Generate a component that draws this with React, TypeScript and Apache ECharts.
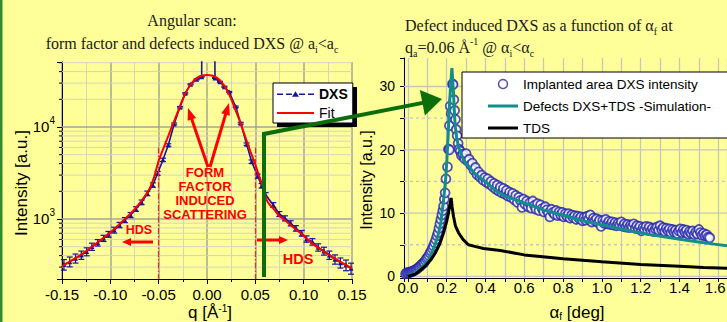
import React, { useEffect, useRef } from 'react';
import * as echarts from 'echarts';

// ---------- Left panel: angular scan ----------
const Q_DXS = [-0.148, -0.142, -0.136, -0.130, -0.1245, -0.119, -0.113, -0.107, -0.102, -0.096, -0.0905, -0.085, -0.079, -0.0735, -0.0676, -0.0617, -0.056, -0.051, -0.0455, -0.040, -0.034, -0.028, -0.0225, -0.017, -0.0107, -0.0055, -0.0049, 0.0058, 0.0083, 0.0134, 0.018, 0.023, 0.0297, 0.0349, 0.041, 0.0462, 0.0524, 0.0565, 0.0607, 0.0686, 0.0748, 0.0807, 0.0866, 0.092, 0.098, 0.103, 0.109, 0.115, 0.121, 0.1266, 0.1324, 0.138, 0.1438, 0.149];
const DXS = [320, 344, 374, 406, 442, 501, 553, 617, 682, 758, 861, 975, 1105, 1284, 1518, 1900, 2340, 3140, 4400, 6370, 10800, 16400, 23200, 29100, 33000, 35200, 1e8, 1e8, 34000, 31000, 27400, 24000, 16600, 11000, 6500, 4200, 2930, 2300, 1823, 1420, 1133, 1017, 898, 792, 700, 607, 566, 492, 449, 406, 365, 335, 316, 291];
const DXS_ERR = [42, 42, 42, 42, 44, 45, 45, 48, 50, 55, 58, 62, 70, 75, 90, 110, 130, 150, 180, 200, 250, 300, 350, 400, 400, 400, 0, 0, 400, 400, 400, 350, 300, 250, 200, 180, 150, 130, 110, 85, 70, 65, 58, 55, 50, 48, 46, 45, 44, 42, 42, 42, 42, 40];
const Q_FIT = [-0.150, -0.140, -0.130, -0.120, -0.110, -0.100, -0.090, -0.080, -0.070, -0.060, -0.055, -0.050, -0.045, -0.040, -0.035, -0.030, -0.025, -0.020, -0.015, -0.010, -0.005, 0, 0.005, 0.010, 0.015, 0.020, 0.025, 0.030, 0.035, 0.040, 0.045, 0.050, 0.053, 0.056, 0.059, 0.0617, 0.065, 0.0686, 0.0738, 0.080, 0.090, 0.100, 0.110, 0.120, 0.130, 0.140, 0.150];
const FIT = [305, 355, 412, 490, 590, 712, 890, 1120, 1470, 2080, 2800, 4300, 5900, 8000, 10900, 14800, 20200, 25800, 30800, 34400, 36300, 36800, 36300, 34400, 30800, 25800, 20200, 14800, 10800, 7600, 5400, 3900, 3140, 2550, 2066, 1610, 1420, 1306, 1105, 980, 800, 660, 530, 450, 385, 333, 290];
const HDS_BOUNDS = [-0.05, 0.05];
const HDS_TOP = 6000;
const LOG_MAJOR = [1000, 10000];
const LOG_MINOR = [300, 400, 500, 600, 700, 800, 900, 2000, 3000, 4000, 5000, 6000, 7000, 8000, 9000, 20000, 30000, 40000, 50000];

// ---------- Right panel: alpha_f scan ----------
const OBSERVED = [
  [-0.012, 0.4], [-0.006, 0.6], [0.000, 0.5], [0.006, 0.6], [0.012, 0.7], [0.018, 0.7], [0.024, 0.8], [0.030, 0.9], [0.036, 1.0], [0.042, 1.1],
  [0.048, 1.2], [0.054, 1.4], [0.060, 1.5], [0.066, 1.7], [0.072, 1.9], [0.078, 2.1], [0.084, 2.2], [0.090, 2.5], [0.096, 2.8], [0.102, 3.0],
  [0.108, 3.3], [0.114, 3.7], [0.120, 4.0], [0.126, 4.4], [0.132, 4.8], [0.138, 5.3], [0.144, 5.8], [0.150, 6.4], [0.155, 6.9], [0.160, 7.6],
  [0.165, 8.3], [0.170, 9.0], [0.175, 9.7], [0.180, 10.4], [0.184, 11.1], [0.188, 12.2], [0.192, 13.2], [0.196, 15.4], [0.204, 17.3], [0.209, 20.1],
  [0.214, 23.8], [0.214, 20.0], [0.218, 26.9], [0.223, 25.7], [0.230, 30.4], [0.233, 30.3], [0.237, 27.9], [0.241, 26.2], [0.245, 24.8], [0.249, 23.2],
  [0.254, 22.2], [0.259, 21.0], [0.264, 20.1], [0.270, 19.8], [0.276, 19.1],
  [0.284, 19.3], [0.292, 18.6], [0.300, 19.4], [0.308, 18.2], [0.316, 18.5], [0.324, 17.6], [0.332, 17.9], [0.340, 16.8], [0.348, 17.2], [0.356, 16.1],
  [0.364, 16.5], [0.372, 15.7], [0.380, 16.0], [0.388, 15.2], [0.396, 15.6], [0.404, 14.9], [0.412, 15.4], [0.420, 14.6], [0.428, 15.0], [0.436, 14.2],
  [0.444, 14.7], [0.452, 13.8], [0.460, 14.4], [0.468, 13.5], [0.476, 14.1], [0.484, 13.2], [0.492, 13.9], [0.500, 13.0], [0.508, 13.6], [0.516, 12.7],
  [0.524, 13.3], [0.532, 12.5], [0.540, 13.1], [0.548, 12.1], [0.556, 12.8], [0.564, 11.7], [0.572, 12.5], [0.580, 12.0], [0.588, 10.9], [0.596, 12.2],
  [0.604, 11.4], [0.612, 11.9], [0.620, 11.0], [0.628, 11.6], [0.636, 10.8], [0.644, 11.9], [0.652, 11.2], [0.660, 10.6], [0.668, 11.5], [0.676, 10.4],
  [0.684, 11.3], [0.692, 10.7], [0.700, 10.2], [0.708, 11.0], [0.716, 10.5], [0.724, 10.0], [0.732, 9.4], [0.740, 10.6], [0.748, 10.1], [0.756, 9.8],
  [0.764, 10.4], [0.772, 9.6], [0.780, 10.2], [0.788, 9.7], [0.796, 10.1], [0.804, 9.4], [0.812, 9.9], [0.820, 9.5], [0.828, 9.9], [0.836, 9.2],
  [0.844, 9.7], [0.852, 9.3], [0.860, 9.6], [0.868, 9.0], [0.876, 9.5], [0.884, 9.1], [0.892, 9.4], [0.900, 8.8], [0.908, 9.3], [0.916, 8.9],
  [0.924, 9.5], [0.932, 9.0], [0.940, 9.7], [0.948, 8.6], [0.956, 9.2], [0.964, 8.8], [0.972, 9.1], [0.980, 8.5], [0.988, 8.9], [0.996, 7.9],
  [1.004, 8.8], [1.012, 8.4], [1.020, 9.0], [1.028, 8.3], [1.036, 8.7], [1.044, 8.2], [1.052, 8.6], [1.060, 8.1], [1.068, 8.5], [1.076, 8.0],
  [1.084, 8.4], [1.092, 8.1], [1.100, 8.6], [1.108, 7.9], [1.116, 8.3], [1.124, 7.8], [1.132, 8.2], [1.140, 7.7], [1.148, 8.1], [1.156, 7.8],
  [1.164, 8.3], [1.172, 7.6], [1.180, 8.0], [1.188, 7.5], [1.196, 7.9], [1.204, 7.2], [1.212, 7.7], [1.220, 7.4], [1.228, 7.9], [1.236, 7.3],
  [1.244, 7.8], [1.252, 7.2], [1.260, 7.6], [1.268, 7.1], [1.276, 7.5], [1.284, 7.8], [1.292, 7.3], [1.300, 8.0], [1.308, 7.4], [1.316, 7.7],
  [1.324, 7.1], [1.332, 7.6], [1.340, 7.2], [1.348, 7.5], [1.356, 6.9], [1.364, 7.4], [1.372, 7.0], [1.380, 7.3], [1.388, 6.8], [1.396, 7.2],
  [1.404, 7.5], [1.412, 6.9], [1.420, 7.4], [1.428, 7.0], [1.436, 7.3], [1.444, 6.7], [1.452, 7.1], [1.460, 6.8], [1.468, 7.2], [1.476, 6.6],
  [1.484, 7.0], [1.492, 6.7], [1.500, 7.4], [1.508, 6.9], [1.516, 6.5], [1.524, 6.8], [1.532, 6.4], [1.540, 6.6], [1.548, 6.2], [1.556, 6.1],
];
const A_SIM = [0, 0.03, 0.06, 0.09, 0.106, 0.12, 0.14, 0.158, 0.17, 0.184, 0.195, 0.201, 0.207, 0.213, 0.220, 0.227, 0.231, 0.235, 0.240, 0.244, 0.252, 0.261, 0.278, 0.295, 0.312, 0.340, 0.364, 0.40, 0.45, 0.50, 0.60, 0.647, 0.70, 0.82, 0.90, 0.991, 1.08, 1.163, 1.25, 1.335, 1.42, 1.507, 1.58, 1.645];
const SIM = [0.1, 0.5, 1.1, 2.0, 2.6, 3.6, 5.0, 6.8, 8.6, 12.1, 15.5, 18.4, 22.0, 26.3, 30.0, 32.9, 31.0, 29.0, 25.8, 23.7, 21.8, 20.5, 19.0, 18.0, 17.4, 16.4, 15.8, 15.0, 13.6, 12.7, 11.6, 11.1, 10.5, 9.5, 8.8, 8.2, 7.6, 7.1, 6.6, 6.2, 5.8, 5.4, 5.1, 4.85];
const A_TDS = [0, 0.04, 0.089, 0.12, 0.141, 0.165, 0.184, 0.200, 0.209, 0.218, 0.223, 0.228, 0.235, 0.245, 0.261, 0.285, 0.312, 0.35, 0.39, 0.476, 0.6, 0.8, 1.0, 1.2, 1.4, 1.524, 1.645];
const TDS = [0, 0.4, 1.6, 2.7, 3.7, 5.2, 6.9, 8.7, 10.0, 11.6, 12.4, 11.0, 9.5, 8.0, 6.9, 5.8, 5.0, 4.7, 4.4, 4.1, 3.4, 2.8, 2.3, 1.9, 1.6, 1.4, 1.3];
const Y_GRID_MAJOR = [0, 10, 20, 30];
const Y_GRID_MINOR = [5, 15, 25];

// ---------- axis extents ----------
const Q_MIN = -0.15, Q_MAX = 0.15;
const I_MIN = 222.7, I_MAX = 50870;
const A_MIN = -0.02, A_MAX = 1.645;
const V_MIN = -0.25, V_MAX = 34.5;

const SANS = '"Liberation Sans", Arial, sans-serif';
const SERIF = '"Liberation Serif", "Times New Roman", serif';
const BG = '#ffff99';
const BLUE = '#1414a0';
const RED = '#ff0000';
const TEAL = '#138c8c';
const OBS_BLUE = '#2222aa';
const GREEN = '#0b6e0b';
const MAJOR_GRID = '#a4a49a';
const MINOR_GRID = '#d4d4c0';
const RGRID = '#c6c6c0';

// legend icon shapes (drawn in the legend item box)
const ICON_DXS = 'path://M0,6.3H6V7.7H0Z M9,6.3H15V7.7H9Z M18.5,4L22,9.5H15Z M22,6.3H28V7.7H22Z M31,6.3H37V7.7H31Z';
const ICON_LINE2 = 'path://M0,0H37V2H0Z';
const ICON_LINE3 = 'path://M0,0H30V3H0Z';

function arrow(x1: number, y1: number, x2: number, y2: number, color: string, lw: number, hl: number, hw: number, z: number) {
  const dx = x2 - x1, dy = y2 - y1;
  const L = Math.hypot(dx, dy);
  const ux = dx / L, uy = dy / L;
  const bx = x2 - ux * hl, by = y2 - uy * hl;
  const px = -uy, py = ux;
  return [
    { type: 'line', z, shape: { x1, y1, x2: bx + ux, y2: by + uy }, style: { stroke: color, lineWidth: lw } },
    { type: 'polygon', z, shape: { points: [[x2, y2], [bx + px * hw / 2, by + py * hw / 2], [bx - px * hw / 2, by - py * hw / 2]] }, style: { fill: color } },
  ];
}

const titleStyle = (size: number, family: string, lh: number, color: string) => ({
  fontFamily: family, fontSize: size, fontWeight: 'normal', color, lineHeight: lh,
  rich: {
    s: { fontFamily: family, fontSize: 10, lineHeight: 12, verticalAlign: 'bottom', color },
    p: { fontFamily: family, fontSize: 10, lineHeight: 10, verticalAlign: 'top', color },
  },
});

function buildOption(): any {
  const dxsData = Q_DXS.map((q, i) => [q, DXS[i]]);
  const errData = Q_DXS.map((q, i) => [q, DXS[i] - DXS_ERR[i], DXS[i] + DXS_ERR[i]]).filter((_, i) => DXS_ERR[i] > 0);
  const fitData = Q_FIT.map((q, i) => [q, FIT[i]]);
  const logGrid = [...LOG_MAJOR.map(v => [Q_MIN, v, 1]), ...LOG_MINOR.map(v => [Q_MIN, v, 0])];
  const linGrid = [...Y_GRID_MAJOR.map(v => [A_MIN, v, 1]), ...Y_GRID_MINOR.map(v => [A_MIN, v, 0])];
  const simData = A_SIM.map((a, i) => [a, SIM[i]]);
  const tdsData = A_TDS.map((a, i) => [a, TDS[i]]);

  const axisBase = {
    axisLine: { show: true, onZero: false, lineStyle: { color: '#000', width: 1 } },
    axisTick: { show: true, lineStyle: { color: '#000', width: 1 } },
  };

  return {
    animation: false,
    backgroundColor: BG,
    title: [
      { text: 'Angular scan:', left: 192, top: 9, textAlign: 'center', padding: 0, textStyle: titleStyle(16, SERIF, 22, '#1a1a1a') },
      { text: 'form factor and defects induced DXS @ a{s|i}<a{s|c}', left: 192, top: 32, textAlign: 'center', padding: 0, textStyle: titleStyle(16, SERIF, 22, '#1a1a1a') },
      { text: 'Defect induced DXS as a function of α{s|f} at', left: 405, top: 14, textAlign: 'left', padding: 0, textStyle: titleStyle(16, SERIF, 22, '#1a1a1a') },
      { text: 'q{s|a}=0.06 Å{p|-1} @ α{s|i}<α{s|c}', left: 405, top: 36, textAlign: 'left', padding: 0, textStyle: titleStyle(16, SERIF, 22, '#1a1a1a') },
      { text: 'q [Å{p|-1}]', left: 210, top: 303, textAlign: 'center', padding: 0, textStyle: titleStyle(17, SANS, 18, '#000') },
      { text: 'α{s|f} [deg]', left: 577, top: 303, textAlign: 'center', padding: 0, textStyle: titleStyle(17, SANS, 18, '#000') },
    ],
    grid: [
      { left: 62, top: 62, width: 290, height: 217, containLabel: false, outerBoundsMode: 'none' },
      { left: 404, top: 58, width: 323, height: 220, containLabel: false, outerBoundsMode: 'none' },
    ],
    xAxis: [
      {
        gridIndex: 0, type: 'value', min: Q_MIN, max: Q_MAX, interval: 0.05,
        ...axisBase,
        axisTick: { show: true, length: 5, lineStyle: { color: '#000' } },
        minorTick: { show: true, splitNumber: 2, length: 3, lineStyle: { color: '#000' } },
        splitLine: { show: true, lineStyle: { color: MAJOR_GRID, width: 1.5 } },
        minorSplitLine: { show: true, lineStyle: { color: MINOR_GRID, width: 1 } },
        axisLabel: {
          color: '#000', fontSize: 15, fontFamily: SANS, margin: 8,
          formatter: (v: number) => (Math.abs(v) < 1e-9 ? '0.00' : v.toFixed(2)),
        },
      },
      {
        gridIndex: 1, type: 'value', min: A_MIN, max: A_MAX, splitNumber: 16,
        ...axisBase,
        axisTick: { show: true, length: 4, lineStyle: { color: '#000' } },
        splitLine: { show: true, lineStyle: { color: RGRID, width: 1.3 } },
        axisLabel: {
          color: '#000', fontSize: 15, fontFamily: SANS, margin: 2,
          formatter: (v: number) => {
            const t = Math.round(v * 10);
            if (Math.abs(v * 10 - t) > 1e-6 || t % 2 !== 0 || t < 0) return '';
            const s = (t / 10).toFixed(1);
            return t === 16 ? `{e|${s}}` : s;
          },
          rich: { e: { fontSize: 15, fontFamily: SANS, color: '#000', padding: [0, 6, 0, 0] } },
        },
      },
    ],
    yAxis: [
      {
        gridIndex: 0, type: 'log', logBase: 10, min: I_MIN, max: I_MAX,
        ...axisBase,
        axisTick: { show: true, length: 5, lineStyle: { color: '#000' } },
        splitLine: { show: false },
        axisLabel: {
          margin: 7,
          formatter: (v: number) => {
            const l = Math.log10(v);
            const e = Math.round(l);
            return Math.abs(l - e) < 1e-6 ? `{b|10}{s|${e}}` : '';
          },
          rich: {
            b: { fontSize: 15, lineHeight: 22, fontFamily: SANS, color: '#000' },
            s: { fontSize: 10, lineHeight: 10, verticalAlign: 'top', fontFamily: SANS, color: '#000' },
          },
        },
      },
      {
        gridIndex: 1, type: 'value', min: V_MIN, max: V_MAX, splitNumber: 7,
        ...axisBase,
        axisTick: { show: true, length: 4, lineStyle: { color: '#000' } },
        splitLine: { show: false },
        axisLabel: {
          color: '#000', fontSize: 14, fontFamily: SANS, margin: 9,
          formatter: (v: number) => {
            const t = Math.round(v / 10) * 10;
            return Math.abs(v - t) < 1e-6 && t >= 0 ? String(t) : '';
          },
        },
      },
    ],
    legend: [
      {
        left: 273, top: 83, orient: 'vertical', itemWidth: 37, itemHeight: 14, itemGap: 5,
        padding: [4, 5, 3, 4], backgroundColor: '#ffffff', borderColor: '#000', borderWidth: 1, borderRadius: 0,
        selectedMode: false, z: 10, symbolKeepAspect: true,
        textStyle: { fontSize: 14, fontFamily: SANS, color: '#000' },
        data: [
          { name: 'DXS', icon: ICON_DXS, textStyle: { fontWeight: 'bold', fontSize: 14, fontFamily: SANS, color: '#000' } },
          { name: 'Fit', icon: ICON_LINE2 },
        ],
      },
      {
        left: 462, top: 72, orient: 'vertical', itemWidth: 30, itemHeight: 9, itemGap: 8,
        padding: [5, 30, 3, 26], backgroundColor: '#ffffff', borderColor: '#000', borderWidth: 1, borderRadius: 0,
        selectedMode: false, z: 10, symbolKeepAspect: true,
        textStyle: { fontSize: 13.5, fontFamily: SANS, color: '#000' },
        data: [
          { name: 'Implanted area DXS intensity', icon: 'circle', itemStyle: { color: '#ffffff', borderColor: OBS_BLUE, borderWidth: 1.5 } },
          { name: 'Defects DXS+TDS -Simulation-', icon: ICON_LINE3 },
          { name: 'TDS', icon: ICON_LINE3 },
        ],
      },
    ],
    series: [
      {
        name: 'logGrid', type: 'custom', xAxisIndex: 0, yAxisIndex: 0, z: 1, silent: true,
        data: logGrid, encode: { x: 0, y: 1 },
        renderItem: (params: any, api: any) => {
          const v = api.value(1);
          const major = api.value(2) === 1;
          const a = api.coord([Q_MIN, v]);
          const b = api.coord([Q_MAX, v]);
          const children: any[] = [
            { type: 'line', shape: { x1: a[0], y1: a[1], x2: b[0], y2: b[1] }, style: { stroke: major ? MAJOR_GRID : MINOR_GRID, lineWidth: major ? 1.5 : 1 } },
          ];
          if (!major) children.push({ type: 'line', shape: { x1: a[0] - 3, y1: a[1], x2: a[0], y2: a[1] }, style: { stroke: '#000', lineWidth: 1 } });
          return { type: 'group', children };
        },
      },
      {
        name: 'errors', type: 'custom', xAxisIndex: 0, yAxisIndex: 0, z: 3, silent: true,
        data: errData, encode: { x: 0, y: [1, 2] },
        renderItem: (params: any, api: any) => {
          const q = api.value(0);
          const lo = api.coord([q, api.value(1)]);
          const hi = api.coord([q, api.value(2)]);
          const w = 3;
          const st = { stroke: BLUE, lineWidth: 1.2 };
          return {
            type: 'group', children: [
              { type: 'line', shape: { x1: lo[0], y1: lo[1], x2: hi[0], y2: hi[1] }, style: st },
              { type: 'line', shape: { x1: lo[0] - w, y1: lo[1], x2: lo[0] + w, y2: lo[1] }, style: st },
              { type: 'line', shape: { x1: hi[0] - w, y1: hi[1], x2: hi[0] + w, y2: hi[1] }, style: st },
            ],
          };
        },
      },
      {
        name: 'DXS', type: 'line', xAxisIndex: 0, yAxisIndex: 0, z: 4,
        data: dxsData, symbol: 'triangle', symbolSize: 5, showSymbol: true,
        lineStyle: { color: BLUE, width: 1.6 }, itemStyle: { color: BLUE },
      },
      {
        name: 'Fit', type: 'line', xAxisIndex: 0, yAxisIndex: 0, z: 5,
        data: fitData, symbol: 'none', smooth: 0.2,
        lineStyle: { color: RED, width: 2 }, itemStyle: { color: RED },
        markLine: {
          silent: true, symbol: ['none', 'none'], label: { show: false },
          lineStyle: { color: '#ff2020', width: 1.2, type: [6, 2, 1.5, 2] },
          data: HDS_BOUNDS.map(q => [{ coord: [q, HDS_TOP] }, { coord: [q, I_MIN] }]),
        },
      },
      {
        name: 'linGrid', type: 'custom', xAxisIndex: 1, yAxisIndex: 1, z: 1, silent: true,
        data: linGrid, encode: { x: 0, y: 1 },
        renderItem: (params: any, api: any) => {
          const v = api.value(1);
          const major = api.value(2) === 1;
          const a = api.coord([A_MIN, v]);
          const b = api.coord([A_MAX, v]);
          return {
            type: 'line', shape: { x1: a[0], y1: a[1], x2: b[0], y2: b[1] },
            style: { stroke: RGRID, lineWidth: 1.3, lineDash: major ? null : [3, 3] },
          };
        },
      },
      {
        name: 'Implanted area DXS intensity', type: 'scatter', xAxisIndex: 1, yAxisIndex: 1, z: 3,
        data: OBSERVED, symbol: 'circle', symbolSize: 9,
        itemStyle: { color: '#ffffff', borderColor: OBS_BLUE, borderWidth: 1.8 },
      },
      {
        name: 'Defects DXS+TDS -Simulation-', type: 'line', xAxisIndex: 1, yAxisIndex: 1, z: 4,
        data: simData, symbol: 'none',
        lineStyle: { color: TEAL, width: 3 }, itemStyle: { color: TEAL },
      },
      {
        name: 'TDS', type: 'line', xAxisIndex: 1, yAxisIndex: 1, z: 4,
        data: tdsData, symbol: 'none',
        lineStyle: { color: '#000', width: 3 }, itemStyle: { color: '#000' },
      },
    ],
    graphic: [
      { type: 'rect', z: 30, shape: { x: 0, y: 0, width: 2.5, height: 322 }, style: { fill: '#2e8b2e' } },
      {
        type: 'text', z: 6, x: 21.5, y: 183, rotation: Math.PI / 2,
        style: { text: 'Intensity [a.u.]', fontFamily: SANS, fontSize: 17, fill: '#000', textAlign: 'center', textVerticalAlign: 'middle' },
      },
      {
        type: 'text', z: 6, x: 366, y: 180, rotation: Math.PI / 2,
        style: { text: 'Intensity [a.u.]', fontFamily: SANS, fontSize: 16, fill: '#000', textAlign: 'center', textVerticalAlign: 'middle' },
      },
      // legend shadows
      { type: 'rect', z: 9, shape: { x: 277, y: 87, width: 80, height: 40 }, style: { fill: '#000' } },
      { type: 'rect', z: 9, shape: { x: 466, y: 76, width: 280, height: 51 }, style: { fill: '#000' } },
      // red annotations
      {
        type: 'text', z: 8, x: 205, y: 165,
        style: { text: 'FORM\nFACTOR\nINDUCED\nSCATTERING', fontFamily: SANS, fontSize: 13, fontWeight: 'bold', fill: RED, textAlign: 'center', textVerticalAlign: 'top', lineHeight: 14 },
      },
      { type: 'text', z: 8, x: 139, y: 229.5, style: { text: 'HDS', fontFamily: SANS, fontSize: 12.5, fontWeight: 'bold', fill: RED, textAlign: 'center', textVerticalAlign: 'middle' } },
      { type: 'text', z: 8, x: 298, y: 259, style: { text: 'HDS', fontFamily: SANS, fontSize: 14.5, fontWeight: 'bold', fill: RED, textAlign: 'center', textVerticalAlign: 'middle' } },
      ...arrow(153, 242, 122, 242, RED, 3, 9, 8, 8),
      ...arrow(257, 240, 288, 240, RED, 3, 9, 8, 8),
      ...arrow(208, 167, 188, 108, RED, 3, 12, 9, 8),
      ...arrow(210, 167, 229, 103, RED, 3, 12, 9, 8),
      // green pointer
      { type: 'polyline', z: 20, shape: { points: [[264, 277], [264, 134], [424, 102.6]] }, style: { stroke: GREEN, lineWidth: 4, fill: 'none', lineJoin: 'miter' } },
      ...arrow(264, 134, 442, 99, GREEN, 0.1, 20, 26, 20).slice(1),
    ],
  };
}

export default function App() {
  const ref = useRef<HTMLDivElement>(null);
  useEffect(() => {
    if (!ref.current) return;
    const chart = echarts.init(ref.current, undefined, { renderer: 'svg' });
    chart.setOption(buildOption());
    return () => chart.dispose();
  }, []);
  return <div ref={ref} style={{ position: 'absolute', left: 0, top: 0, width: 727, height: 322 }} />;
}
